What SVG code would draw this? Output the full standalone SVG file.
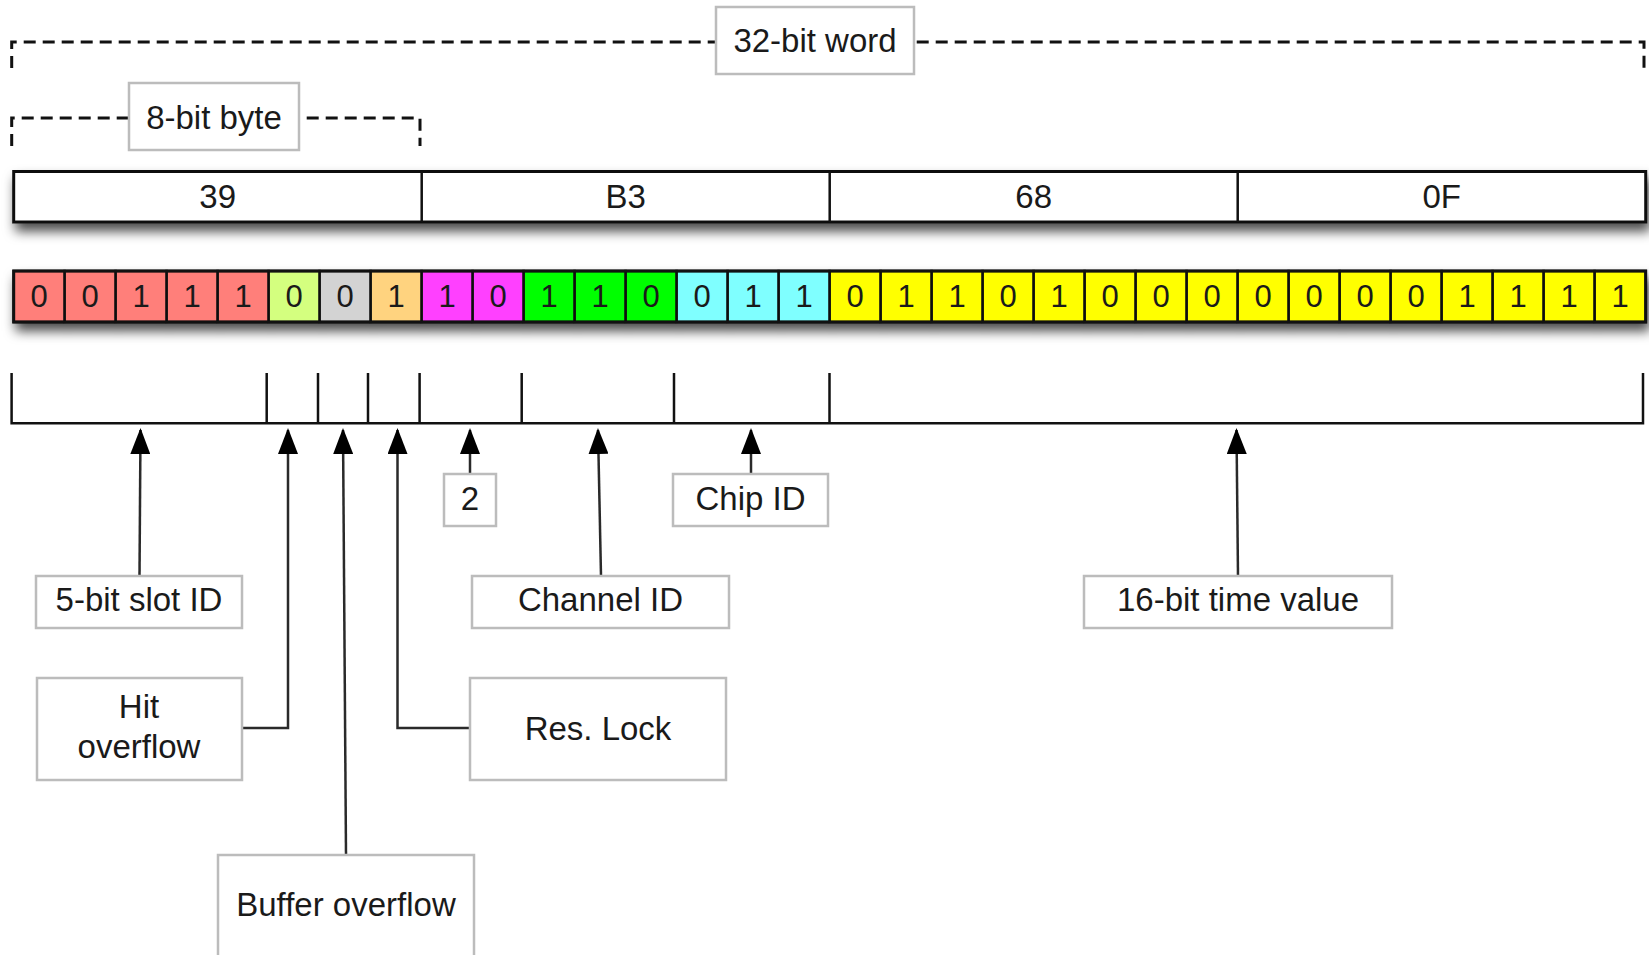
<svg xmlns="http://www.w3.org/2000/svg" width="1649" height="955" viewBox="0 0 1649 955">
  <style>
    .t { font-family: "Liberation Sans", Arial, Helvetica, sans-serif; font-size: 33px; fill: #1a1a1a; text-anchor: middle; }
    .bit { font-size: 31px; }
    .box { fill: #ffffff; stroke: #bcbcbc; stroke-width: 2.5; }
    .dash { fill: none; stroke: #111111; stroke-width: 3; stroke-dasharray: 12 7; }
    .cell { stroke: #111111; stroke-width: 2.5; }
    .r { fill: #ff7f7a; }
    .lg { fill: #d4ff7f; }
    .gy { fill: #d3d3d3; }
    .or { fill: #ffd37f; }
    .m { fill: #ff40ff; }
    .g { fill: #00ff00; }
    .c { fill: #7fffff; }
    .y { fill: #ffff00; }
    .tick { fill: none; stroke: #111111; stroke-width: 2.5; }
    .conn { fill: none; stroke: #2a2a2a; stroke-width: 2.5; marker-end: url(#head); }
  </style>
  <defs>
    <filter id="shadow" x="-5%" y="-50%" width="110%" height="220%">
      <feDropShadow dx="3" dy="8" stdDeviation="6" flood-color="#000000" flood-opacity="0.7"/>
    </filter>
    <marker id="head" markerUnits="userSpaceOnUse" markerWidth="26" markerHeight="20" viewBox="0 0 26 20" refX="24" refY="10" orient="auto">
      <path d="M0,0 L26,10 L0,20 Z" fill="#000000"/>
    </marker>
  </defs>

  <rect width="1649" height="955" fill="#ffffff"/>

  <!-- 32-bit word bracket -->
  <g id="word-bracket">
    <path class="dash" d="M11.7,68 V42 H1644 V68"/>
    <rect class="box" x="716" y="7" width="198" height="67"/>
    <text class="t" x="815" y="52">32-bit word</text>
  </g>

  <!-- 8-bit byte bracket -->
  <g id="byte-bracket">
    <path class="dash" d="M11.7,146 V118 H420 V146"/>
    <rect class="box" x="129" y="83" width="170" height="67"/>
    <text class="t" x="214" y="129">8-bit byte</text>
  </g>

  <!-- hex bytes -->
  <g id="byte-row">
    <rect x="13.7" y="171.5" width="1632" height="50.5" fill="#ffffff" stroke="#111111" stroke-width="3" filter="url(#shadow)"/>
    <path class="tick" d="M421.7,171.5 V222 M829.7,171.5 V222 M1237.7,171.5 V222"/>
    <text class="t" x="217.7" y="208">39</text>
    <text class="t" x="625.7" y="208">B3</text>
    <text class="t" x="1033.7" y="208">68</text>
    <text class="t" x="1441.7" y="208">0F</text>
  </g>

  <!-- individual bits -->
  <g id="bit-row">
    <g filter="url(#shadow)">
      <rect class="cell r" x="13.7" y="271" width="51" height="51"/>
      <rect class="cell r" x="64.7" y="271" width="51" height="51"/>
      <rect class="cell r" x="115.7" y="271" width="51" height="51"/>
      <rect class="cell r" x="166.7" y="271" width="51" height="51"/>
      <rect class="cell r" x="217.7" y="271" width="51" height="51"/>
      <rect class="cell lg" x="268.7" y="271" width="51" height="51"/>
      <rect class="cell gy" x="319.7" y="271" width="51" height="51"/>
      <rect class="cell or" x="370.7" y="271" width="51" height="51"/>
      <rect class="cell m" x="421.7" y="271" width="51" height="51"/>
      <rect class="cell m" x="472.7" y="271" width="51" height="51"/>
      <rect class="cell g" x="523.7" y="271" width="51" height="51"/>
      <rect class="cell g" x="574.7" y="271" width="51" height="51"/>
      <rect class="cell g" x="625.7" y="271" width="51" height="51"/>
      <rect class="cell c" x="676.7" y="271" width="51" height="51"/>
      <rect class="cell c" x="727.7" y="271" width="51" height="51"/>
      <rect class="cell c" x="778.7" y="271" width="51" height="51"/>
      <rect class="cell y" x="829.7" y="271" width="51" height="51"/>
      <rect class="cell y" x="880.7" y="271" width="51" height="51"/>
      <rect class="cell y" x="931.7" y="271" width="51" height="51"/>
      <rect class="cell y" x="982.7" y="271" width="51" height="51"/>
      <rect class="cell y" x="1033.7" y="271" width="51" height="51"/>
      <rect class="cell y" x="1084.7" y="271" width="51" height="51"/>
      <rect class="cell y" x="1135.7" y="271" width="51" height="51"/>
      <rect class="cell y" x="1186.7" y="271" width="51" height="51"/>
      <rect class="cell y" x="1237.7" y="271" width="51" height="51"/>
      <rect class="cell y" x="1288.7" y="271" width="51" height="51"/>
      <rect class="cell y" x="1339.7" y="271" width="51" height="51"/>
      <rect class="cell y" x="1390.7" y="271" width="51" height="51"/>
      <rect class="cell y" x="1441.7" y="271" width="51" height="51"/>
      <rect class="cell y" x="1492.7" y="271" width="51" height="51"/>
      <rect class="cell y" x="1543.7" y="271" width="51" height="51"/>
      <rect class="cell y" x="1594.7" y="271" width="51" height="51"/>
    </g>
    <rect x="13.7" y="271" width="1632" height="51" fill="none" stroke="#111111" stroke-width="3"/>
    <g class="t bit">
      <text x="39.2" y="307">0</text>
      <text x="90.2" y="307">0</text>
      <text x="141.2" y="307">1</text>
      <text x="192.2" y="307">1</text>
      <text x="243.2" y="307">1</text>
      <text x="294.2" y="307">0</text>
      <text x="345.2" y="307">0</text>
      <text x="396.2" y="307">1</text>
      <text x="447.2" y="307">1</text>
      <text x="498.2" y="307">0</text>
      <text x="549.2" y="307">1</text>
      <text x="600.2" y="307">1</text>
      <text x="651.2" y="307">0</text>
      <text x="702.2" y="307">0</text>
      <text x="753.2" y="307">1</text>
      <text x="804.2" y="307">1</text>
      <text x="855.2" y="307">0</text>
      <text x="906.2" y="307">1</text>
      <text x="957.2" y="307">1</text>
      <text x="1008.2" y="307">0</text>
      <text x="1059.2" y="307">1</text>
      <text x="1110.2" y="307">0</text>
      <text x="1161.2" y="307">0</text>
      <text x="1212.2" y="307">0</text>
      <text x="1263.2" y="307">0</text>
      <text x="1314.2" y="307">0</text>
      <text x="1365.2" y="307">0</text>
      <text x="1416.2" y="307">0</text>
      <text x="1467.2" y="307">1</text>
      <text x="1518.2" y="307">1</text>
      <text x="1569.2" y="307">1</text>
      <text x="1620.2" y="307">1</text>
    </g>
  </g>

  <!-- field bracket -->
  <g id="field-ticks">
    <path class="tick" d="M11.6,373 V423.3 H1643 V373"/>
    <path class="tick" d="M266.7,373 V423.3 M318,373 V423.3 M368,373 V423.3 M419.6,373 V423.3 M521.7,373 V423.3 M674,373 V423.3"/>
    <path class="tick" stroke-width="4.5" d="M829.5,373 V423.3"/>
  </g>

  <!-- connectors -->
  <g id="connectors">
    <path class="conn" d="M139.5,576 L140.5,430"/>
    <path class="conn" d="M242,728 H288 V430"/>
    <path class="conn" d="M346,855 L343,430"/>
    <path class="conn" d="M470,728 H397.5 V430"/>
    <path class="conn" d="M470,474 V430"/>
    <path class="conn" d="M601,576 L598,430"/>
    <path class="conn" d="M751,474 V430"/>
    <path class="conn" d="M1238,576 L1236.5,430"/>
  </g>

  <!-- field labels -->
  <g id="slot-id">
    <rect class="box" x="36" y="576" width="206" height="52"/>
    <text class="t" x="139" y="611">5-bit slot ID</text>
  </g>
  <g id="hit-overflow">
    <rect class="box" x="37" y="678" width="205" height="102"/>
    <text class="t" x="139" y="718">Hit</text>
    <text class="t" x="139" y="758">overflow</text>
  </g>
  <g id="buffer-overflow">
    <rect class="box" x="218" y="855" width="256" height="120"/>
    <text class="t" x="346" y="916">Buffer overflow</text>
  </g>
  <g id="res-lock">
    <rect class="box" x="470" y="678" width="256" height="102"/>
    <text class="t" x="598" y="740">Res. Lock</text>
  </g>
  <g id="field-2">
    <rect class="box" x="444" y="474" width="52" height="52"/>
    <text class="t" x="470" y="510">2</text>
  </g>
  <g id="chip-id">
    <rect class="box" x="673" y="474" width="155" height="52"/>
    <text class="t" x="750.5" y="510">Chip ID</text>
  </g>
  <g id="channel-id">
    <rect class="box" x="472" y="576" width="257" height="52"/>
    <text class="t" x="600.5" y="611">Channel ID</text>
  </g>
  <g id="time-value">
    <rect class="box" x="1084" y="576" width="308" height="52"/>
    <text class="t" x="1238" y="611">16-bit time value</text>
  </g>
</svg>
